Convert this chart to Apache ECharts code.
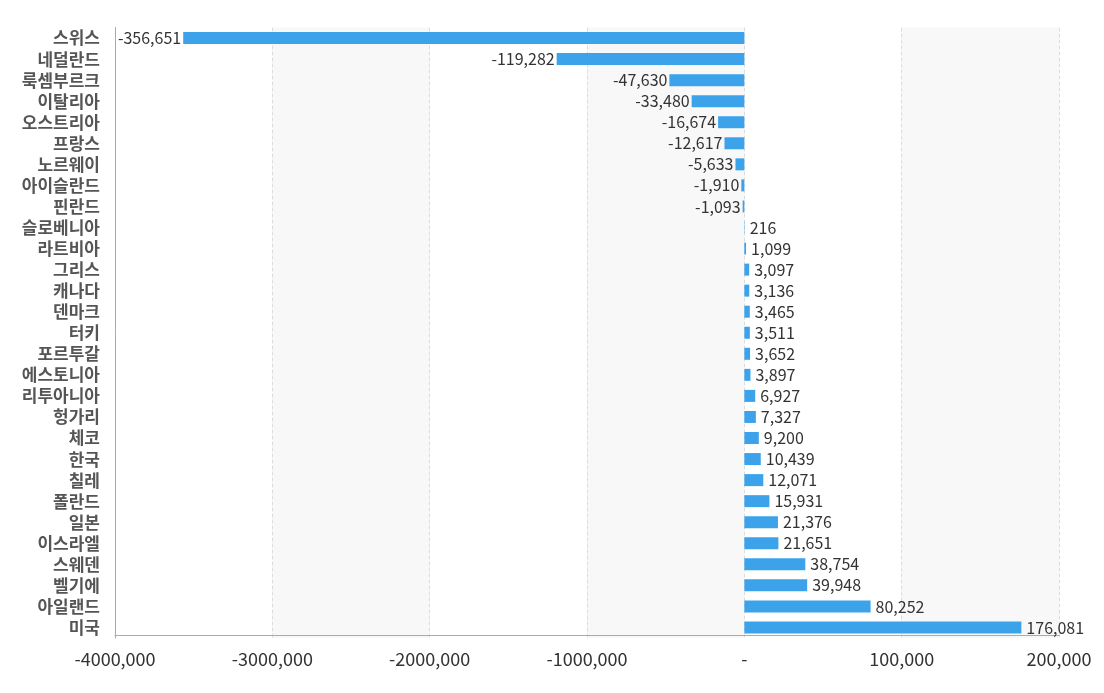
<!DOCTYPE html>
<html>
<head>
<meta charset="utf-8">
<script src="https://cdn.jsdelivr.net/npm/echarts@6/dist/echarts.min.js"></script>
<style>
html,body{margin:0;padding:0;background:#fff;}
#main{width:1104px;height:693px;}
</style>
</head>
<body>
<div id="main"></div>
<script>
const countries = ["스위스","네덜란드","룩셈부르크","이탈리아","오스트리아","프랑스","노르웨이","아이슬란드","핀란드","슬로베니아","라트비아","그리스","캐나다","덴마크","터키","포르투갈","에스토니아","리투아니아","헝가리","체코","한국","칠레","폴란드","일본","이스라엘","스웨덴","벨기에","아일랜드","미국"];
const values = [-356651,-119282,-47630,-33480,-16674,-12617,-5633,-1910,-1093,216,1099,3097,3136,3465,3511,3652,3897,6927,7327,9200,10439,12071,15931,21376,21651,38754,39948,80252,176081];
const tickLabels = ["-4000,000","-3000,000","-2000,000","-1000,000","-","100,000","200,000"];
const tickValues = [-400000,-300000,-200000,-100000,0,100000,200000];

const font = '"Noto Sans CJK KR", "Noto Sans", sans-serif';
const chart = echarts.init(document.getElementById('main'));
chart.setOption({
  animation:false,
  grid:{left:115,right:45,top:27.5,bottom:55,containLabel:false},
  xAxis:{
    type:'value',min:-400000,max:200000,interval:100000,
    offset:-3,
    axisLine:{show:true,lineStyle:{color:'#aaa'}},
    axisTick:{show:false},
    axisLabel:{
      margin:15,fontSize:18,color:'#333',fontFamily:font,
      formatter:function(v){const i=tickValues.indexOf(v);return i>=0?tickLabels[i]:'';}
    },
    splitLine:{show:true,lineStyle:{color:'#ddd',type:'dashed'}},
    splitArea:{show:true,areaStyle:{color:['#ffffff','#f8f8f8']}}
  },
  yAxis:{
    type:'category',data:countries,inverse:true,
    axisLine:{show:true,onZero:false,lineStyle:{color:'#aaa'}},
    axisTick:{show:false},
    axisLabel:{margin:15,fontSize:17,color:'#555',fontWeight:'bold',fontFamily:font,interval:0},
    splitLine:{show:false}
  },
  series:[{
    type:'bar',
    barWidth:12,
    itemStyle:{color:'#3ca3eb'},
    data:values.map(v=>({value:v,label:{position:v<0?'left':'right',distance:v<0?2:5}})),
    label:{
      show:true,fontSize:16,color:'#333',fontFamily:font,
      formatter:p=>p.value.toLocaleString('en-US')
    }
  }]
});
</script>
</body>
</html>
